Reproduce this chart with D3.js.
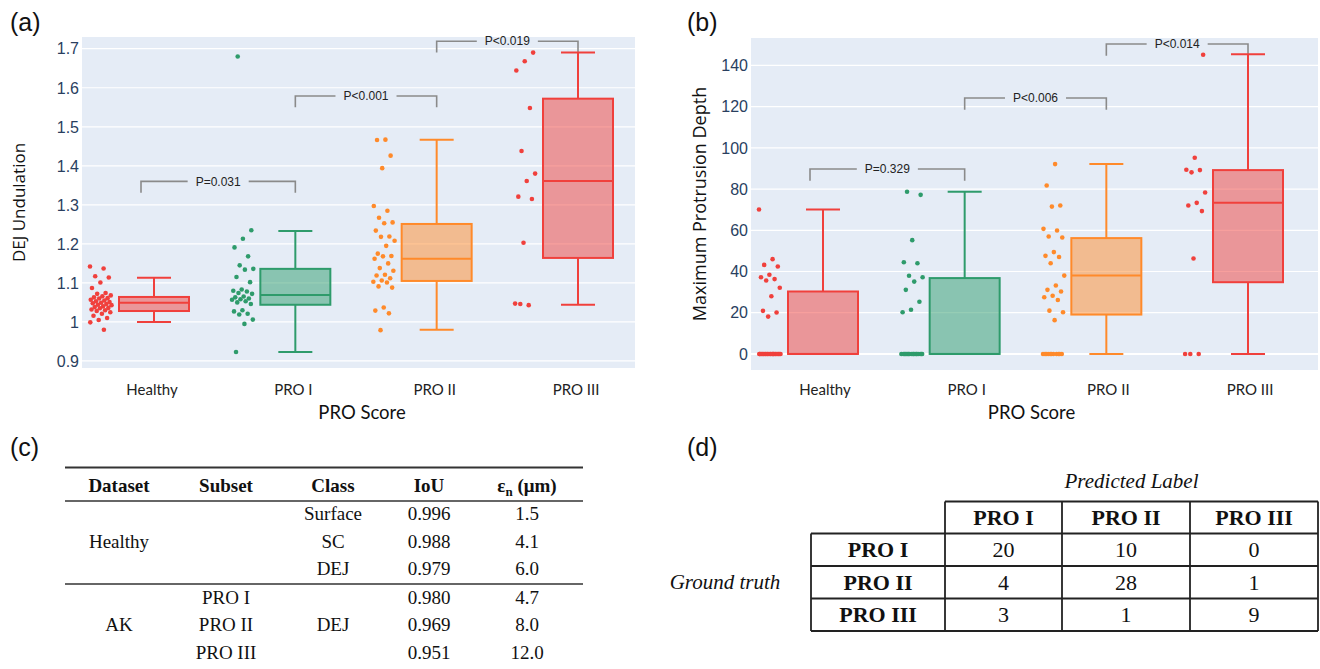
<!DOCTYPE html>
<html><head><meta charset="utf-8">
<script src="https://cdn.jsdelivr.net/npm/d3@7"></script>
<style>body{margin:0;background:#fff}svg{display:block}</style>
</head><body>
<svg id="fig" width="1320" height="669"></svg>
<script>
// ---------------- DATA ----------------
const categories = ["Healthy", "PRO I", "PRO II", "PRO III"];
const seriesColors = ["#f0403c", "#2e9b6b", "#ff8a2a", "#f0403c"];

// Panel (a): DEJ undulation, sample points
const undHealthy = [1.142,1.137,1.117,1.114,1.101,1.087,1.074,1.072,1.068,1.066,1.063,1.061,1.060,1.057,1.055,1.053,1.051,1.049,1.048,1.046,1.044,1.043,1.040,1.038,1.036,1.035,1.032,1.030,1.028,1.025,1.021,1.016,1.010,1.005,0.999,0.980];
const undPro1 = [1.680,1.235,1.213,1.191,1.168,1.145,1.136,1.134,1.115,1.102,1.083,1.080,1.078,1.074,1.072,1.065,1.063,1.060,1.058,1.057,1.053,1.050,1.046,1.030,1.027,1.021,1.019,1.006,0.995,0.923];
const undPro2 = [1.467,1.466,1.426,1.394,1.297,1.285,1.267,1.255,1.253,1.234,1.219,1.218,1.208,1.195,1.175,1.169,1.168,1.162,1.150,1.138,1.131,1.121,1.119,1.112,1.106,1.103,1.101,1.091,1.088,1.037,1.029,1.022,0.979];
const undPro3 = [1.690,1.668,1.644,1.548,1.438,1.380,1.361,1.321,1.315,1.203,1.047,1.043,1.046];
// Panel (a): box statistics
const undLower  = [1.000, 0.923, 0.980, 1.044];
const undQ1     = [1.028, 1.044, 1.105, 1.164];
const undMedian = [1.049, 1.069, 1.162, 1.361];
const undQ3     = [1.064, 1.136, 1.251, 1.572];
const undUpper  = [1.113, 1.233, 1.467, 1.690];
const undTicks  = [0.9, 1.0, 1.1, 1.2, 1.3, 1.4, 1.5, 1.6, 1.7];
const undTickLabels = ["0.9","1","1.1","1.2","1.3","1.4","1.5","1.6","1.7"];
const undBracketLabels = ["P=0.031", "P<0.001", "P<0.019"];
const undBracketTop = [1.360, 1.579, 1.719];

// Panel (b): maximum protrusion depth, sample points
const depHealthy = [70.1,46,43.2,42.4,38.4,37.2,36.3,35.6,32.1,28,20.9,20.1,18.1,0,0,0,0,0,0,0,0,0,0,0,0,0,0,0,0,0,0,0,0,0,0,0];
const depPro1 = [78.7,77.2,55.2,44.5,44.0,37.9,37.2,35.1,31.1,25.3,21.4,20.2,0,0,0,0,0,0,0,0,0,0,0,0,0,0,0,0,0,0];
const depPro2 = [92.1,81.7,72.0,71.5,60.7,59.9,57,56.5,49.4,47.6,47,44,38,33.2,31.1,30.3,28.2,27.5,26.2,21,20.2,16.4,0,0,0,0,0,0,0,0,0,0,0];
const depPro3 = [145.2,95.2,89.4,89.2,88.1,78.3,73.3,72,69.3,46.3,0,0,0];
const depLower  = [0, 0, 0, 0];
const depQ1     = [0, 0, 19.1, 34.8];
const depMedian = [0, 0, 38.0, 73.3];
const depQ3     = [30.3, 36.8, 56.2, 89.2];
const depUpper  = [70.1, 78.7, 92.1, 145.4];
const depTicks  = [0, 20, 40, 60, 80, 100, 120, 140];
const depTickLabels = ["0","20","40","60","80","100","120","140"];
const depBracketLabels = ["P=0.329", "P<0.006", "P<0.014"];
const depBracketTop = [89.7, 124.2, 150.4];

const bracketPairs = [[0,1],[1,2],[2,3]];

// Panel (c): table
const tableCHeader = ["Dataset", "Subset", "Class", "IoU", "εn (μm)"];
const tableCRows = [
  ["", "", "Surface", "0.996", "1.5"],
  ["Healthy", "", "SC", "0.988", "4.1"],
  ["", "", "DEJ", "0.979", "6.0"],
  ["", "PRO I", "", "0.980", "4.7"],
  ["AK", "PRO II", "DEJ", "0.969", "8.0"],
  ["", "PRO III", "", "0.951", "12.0"]
];

// Panel (d): confusion matrix
const confLabels = ["PRO I", "PRO II", "PRO III"];
const confMatrix = [[20, 10, 0], [4, 28, 1], [3, 1, 9]];

// ---------------- DRAW ----------------
const svg = d3.select("#fig");
const SANS = "'Liberation Sans', Arial, sans-serif";
const HUM = "Lato, 'Open Sans', sans-serif";
const OPEN = "'Open Sans', sans-serif";
const SERIF = "'Liberation Serif', 'Times New Roman', serif";

function panelLabel(txt, x, y) {
  svg.append("text").attr("x", x).attr("y", y).text(txt)
    .attr("font-family", SANS).attr("font-size", 25).attr("fill", "#111");
}

function boxPanel(o) {
  const g = svg.append("g");
  const x = d3.scalePoint().domain(categories).range(o.xr);
  const y = d3.scaleLinear().domain(o.yd).range([o.y1, o.y0]);
  g.append("rect").attr("x", o.x0).attr("y", o.y0).attr("width", o.x1 - o.x0)
    .attr("height", o.y1 - o.y0).attr("fill", "#e5ecf6");
  // grid
  g.selectAll(".grid").data(o.ticks).join("line")
    .attr("x1", o.x0).attr("x2", o.x1)
    .attr("y1", d => y(d)).attr("y2", d => y(d))
    .attr("stroke", "#fff").attr("stroke-width", d => d === 0 ? 2 : 1.2);
  // y tick labels
  g.selectAll(".yt").data(o.ticks).join("text")
    .attr("x", o.x0 - 3).attr("y", d => y(d)).attr("dy", "0.36em")
    .attr("text-anchor", "end").attr("font-family", SANS).attr("font-size", 16)
    .attr("fill", "#2a3f5f").text((d, i) => o.tickLabels[i]);
  // x tick labels
  g.selectAll(".xt").data(categories).join("text")
    .attr("x", d => x(d) + o.labelShift).attr("y", 395).attr("text-anchor", "middle")
    .attr("font-family", HUM).attr("font-size", 15).attr("fill", "#222").text(d => d);
  // axis titles
  g.append("text").attr("x", (o.xr[0] + o.xr[1]) / 2 - 4).attr("y", 419)
    .attr("text-anchor", "middle").attr("font-family", HUM).attr("font-size", 18.5)
    .attr("fill", "#111").text("PRO Score");
  g.append("text").attr("transform", `translate(${o.titleX},${(o.y0 + o.y1) / 2}) rotate(-90)`)
    .attr("text-anchor", "middle").attr("dy", "0.35em").attr("font-family", OPEN)
    .attr("font-size", o.titleSize).attr("fill", "#111").text(o.ytitle);

  const bw = 70, cw = 34, off = -53;
  categories.forEach((c, i) => {
    const cx = x(c), col = seriesColors[i];
    const bg = g.append("g");
    // whiskers
    bg.append("line").attr("x1", cx).attr("x2", cx).attr("y1", y(o.upper[i])).attr("y2", y(o.q3[i]))
      .attr("stroke", col).attr("stroke-width", 2);
    bg.append("line").attr("x1", cx).attr("x2", cx).attr("y1", y(o.q1[i])).attr("y2", y(o.lower[i]))
      .attr("stroke", col).attr("stroke-width", 2);
    [o.upper[i], o.lower[i]].forEach(v => bg.append("line")
      .attr("x1", cx - cw / 2).attr("x2", cx + cw / 2).attr("y1", y(v)).attr("y2", y(v))
      .attr("stroke", col).attr("stroke-width", 2));
    bg.append("rect").attr("x", cx - bw / 2).attr("width", bw)
      .attr("y", y(o.q3[i])).attr("height", Math.max(0, y(o.q1[i]) - y(o.q3[i])))
      .attr("fill", col).attr("fill-opacity", 0.5).attr("stroke", col).attr("stroke-width", 2);
    bg.append("line").attr("x1", cx - bw / 2).attr("x2", cx + bw / 2)
      .attr("y1", y(o.median[i])).attr("y2", y(o.median[i])).attr("stroke", col).attr("stroke-width", 2);
    // points (deterministic jitter)
    g.selectAll(null).data(o.points[i]).join("circle")
      .attr("cx", (d, j) => cx + off + (((j * 0.618034 + i * 0.29) % 1) - 0.5) * 22)
      .attr("cy", d => y(d)).attr("r", 2.3).attr("fill", col);
  });
  // brackets (first category end sits slightly left of its box, as in the source)
  bracketPairs.forEach((p, k) => {
    const xa = x(categories[p[0]]) - (p[0] === 0 ? 13 : 0), xb = x(categories[p[1]]);
    const yt = y(o.bTop[k]), yb = y(o.bTop[k] - o.bDrop);
    const mid = (xa + xb) / 2;
    const t = g.append("text").attr("x", mid).attr("y", yt).attr("dy", "0.35em")
      .attr("text-anchor", "middle").attr("font-family", SANS).attr("font-size", 12)
      .attr("fill", "#222").text(o.bLabels[k]);
    const w = t.node().getComputedTextLength();
    const path = `M${xa},${yb}V${yt}H${mid - w / 2 - 8}M${mid + w / 2 + 8},${yt}H${xb}V${yb}`;
    g.insert("path", "text").attr("d", path).attr("fill", "none")
      .attr("stroke", "#8a8a8a").attr("stroke-width", 1.6);
  });
}

panelLabel("(a)", 10, 31);
boxPanel({
  x0: 82, x1: 635, y0: 37, y1: 368, xr: [154, 578], yd: [0.882, 1.73], labelShift: -2,
  ticks: undTicks, tickLabels: undTickLabels, ytitle: "DEJ Undulation", titleX: 19, titleSize: 17,
  points: [undHealthy, undPro1, undPro2, undPro3],
  lower: undLower, q1: undQ1, median: undMedian, q3: undQ3, upper: undUpper,
  bLabels: undBracketLabels, bTop: undBracketTop, bDrop: 0.029
});

panelLabel("(b)", 687, 31);
boxPanel({
  x0: 751, x1: 1318, y0: 38, y1: 370, xr: [823, 1248], yd: [-7.8, 153.3], labelShift: 2,
  ticks: depTicks, tickLabels: depTickLabels, ytitle: "Maximum Protrusion Depth", titleX: 700, titleSize: 18,
  points: [depHealthy, depPro1, depPro2, depPro3],
  lower: depLower, q1: depQ1, median: depMedian, q3: depQ3, upper: depUpper,
  bLabels: depBracketLabels, bTop: depBracketTop, bDrop: 5.7
});

// ---------- Table (c) ----------
panelLabel("(c)", 10, 456);
(function () {
  const g = svg.append("g");
  const colX = [119, 226, 333, 429, 527];
  const xl = 65, xr = 583;
  [[467.5, 1.8], [501, 1.6], [584, 1.6]].forEach(r =>
    g.append("line").attr("x1", xl).attr("x2", xr).attr("y1", r[0]).attr("y2", r[0])
      .attr("stroke", "#333").attr("stroke-width", r[1]));
  const hdr = g.selectAll(".h").data(tableCHeader).join("text")
    .attr("x", (d, i) => colX[i]).attr("y", 492).attr("text-anchor", "middle")
    .attr("font-family", SERIF).attr("font-weight", "bold").attr("font-size", 19).attr("fill", "#111");
  hdr.each(function (d) {
    const t = d3.select(this);
    if (d.startsWith("ε")) {
      t.append("tspan").text("ε");
      t.append("tspan").text("n").attr("font-size", 13).attr("dy", 4);
      t.append("tspan").text(" (μm)").attr("dy", -4);
    } else t.text(d);
  });
  const rowY = i => 520 + i * 27.6 + (i >= 3 ? 1 : 0);
  tableCRows.forEach((row, i) => {
    g.selectAll(null).data(row).join("text")
      .attr("x", (d, j) => colX[j]).attr("y", rowY(i)).attr("text-anchor", "middle")
      .attr("font-family", SERIF).attr("font-size", 19).attr("fill", "#111").text(d => d);
  });
})();

// ---------- Table (d) ----------
panelLabel("(d)", 687, 456);
(function () {
  const g = svg.append("g");
  const colE = [811, 945, 1062, 1190, 1318];
  const rowE = [501.5, 533.5, 566, 598.5, 631];
  g.append("text").attr("x", (colE[1] + colE[4]) / 2).attr("y", 488).attr("text-anchor", "middle")
    .attr("font-family", SERIF).attr("font-style", "italic").attr("font-size", 21).attr("fill", "#111")
    .text("Predicted Label");
  g.append("text").attr("x", 725).attr("y", (rowE[1] + rowE[4]) / 2 + 7).attr("text-anchor", "middle")
    .attr("font-family", SERIF).attr("font-style", "italic").attr("font-size", 21).attr("fill", "#111")
    .text("Ground truth");
  const ln = (x1, y1, x2, y2) => g.append("line").attr("x1", x1).attr("y1", y1).attr("x2", x2).attr("y2", y2)
    .attr("stroke", "#222").attr("stroke-width", 1.8);
  ln(colE[1], rowE[0], colE[4], rowE[0]);
  colE.slice(1).forEach(x => ln(x, rowE[0], x, rowE[4]));
  rowE.slice(1).forEach(y => ln(colE[0], y, colE[4], y));
  ln(colE[0], rowE[1], colE[0], rowE[4]);
  const cx = j => (colE[j] + colE[j + 1]) / 2, cy = i => (rowE[i] + rowE[i + 1]) / 2 + 7.5;
  g.selectAll(".ch").data(confLabels).join("text")
    .attr("x", (d, j) => cx(j + 1)).attr("y", cy(0)).attr("text-anchor", "middle")
    .attr("font-family", SERIF).attr("font-weight", "bold").attr("font-size", 22).attr("fill", "#111").text(d => d);
  g.selectAll(".rh").data(confLabels).join("text")
    .attr("x", cx(0)).attr("y", (d, i) => cy(i + 1)).attr("text-anchor", "middle")
    .attr("font-family", SERIF).attr("font-weight", "bold").attr("font-size", 22).attr("fill", "#111").text(d => d);
  confMatrix.forEach((row, i) => {
    g.selectAll(null).data(row).join("text")
      .attr("x", (d, j) => cx(j + 1)).attr("y", cy(i + 1)).attr("text-anchor", "middle")
      .attr("font-family", SERIF).attr("font-size", 22).attr("fill", "#111").text(d => d);
  });
})();
</script>
</body></html>
